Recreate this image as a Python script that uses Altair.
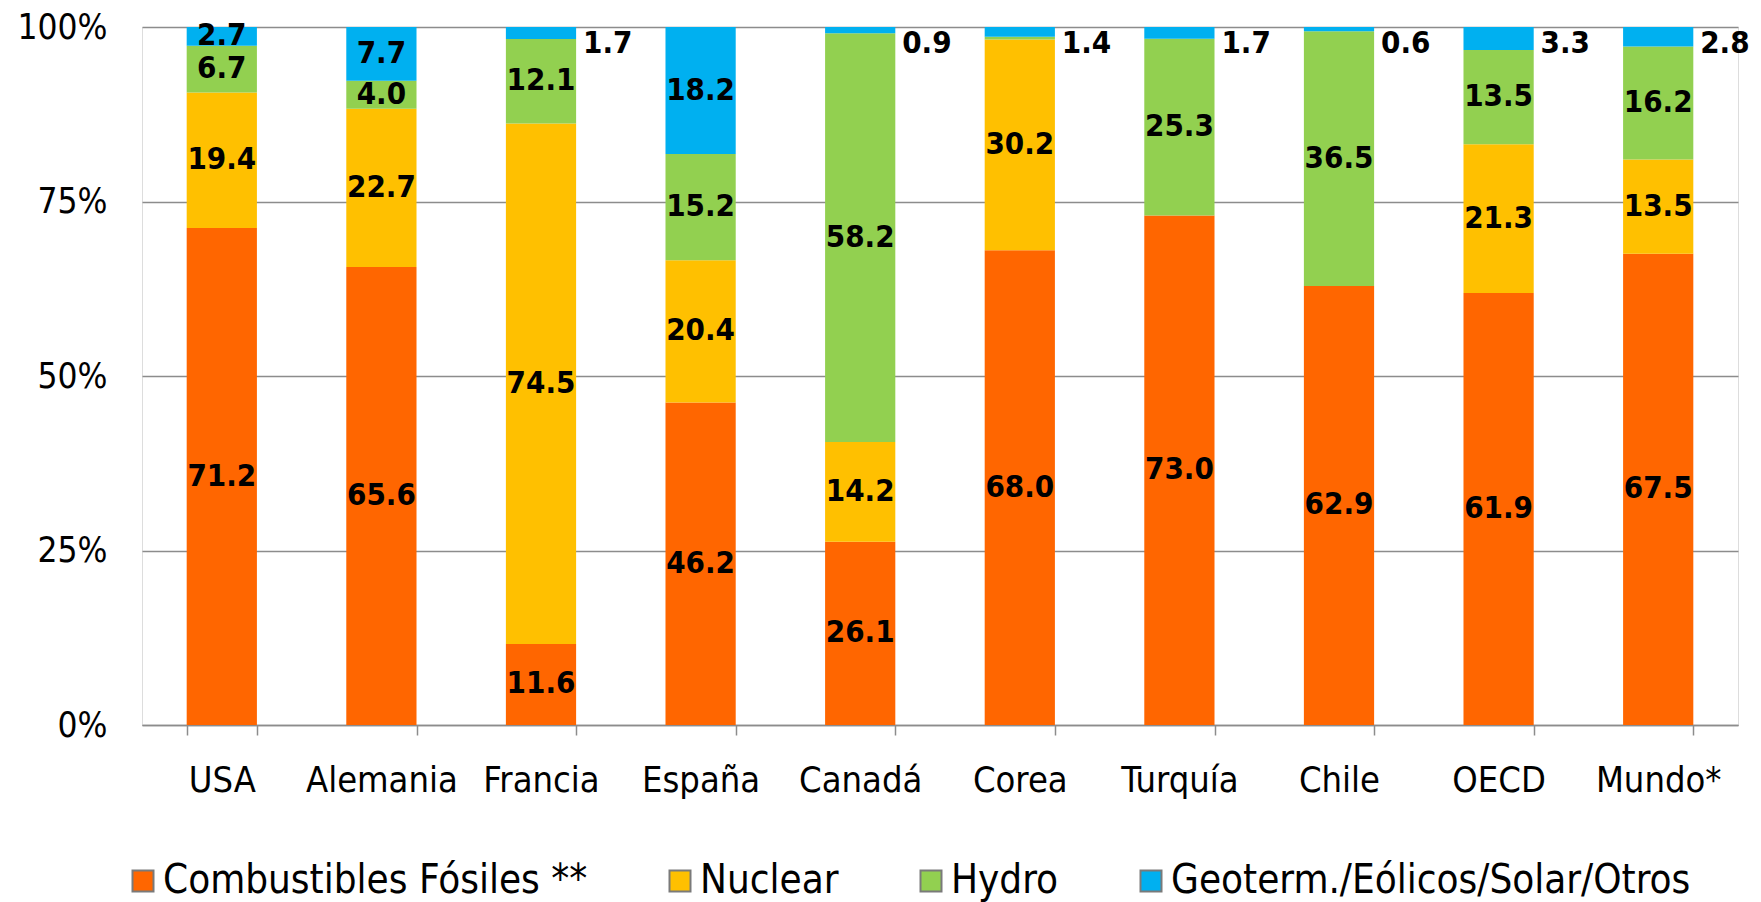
import altair as alt
import pandas as pd

paises = ["USA", "Alemania", "Francia", "España", "Canadá", "Corea", "Turquía", "Chile", "OECD", "Mundo*"]
fuentes = ["Combustibles Fósiles **", "Nuclear", "Hydro", "Geoterm./Eólicos/Solar/Otros"]
colores = ["#FF6600", "#FFC000", "#92D050", "#00B0F0"]

fosiles = [71.2, 65.6, 11.6, 46.2, 26.1, 68.0, 73.0, 62.9, 61.9, 67.5]
nuclear = [19.4, 22.7, 74.5, 20.4, 14.2, 30.2, 0.0, 0.0, 21.3, 13.5]
hydro = [6.7, 4.0, 12.1, 15.2, 58.2, 0.4, 25.3, 36.5, 13.5, 16.2]
otros = [2.7, 7.7, 1.7, 18.2, 0.9, 1.4, 1.7, 0.6, 3.3, 2.8]

# countries whose small "otros" value is written beside the bar
etiqueta_fuera = ["Francia", "Canadá", "Corea", "Turquía", "Chile", "OECD", "Mundo*"]

rows = []
for serie_idx, (fuente, valores) in enumerate(zip(fuentes, [fosiles, nuclear, hydro, otros])):
    for pais, v in zip(paises, valores):
        rows.append({
            "pais": pais,
            "fuente": fuente,
            "valor": v,
            "orden": serie_idx,
            "fuera": (serie_idx == 3 and pais in etiqueta_fuera),
        })
df = pd.DataFrame(rows)

FONT = "DejaVu Sans Condensed"

x_enc = alt.X(
    "pais:N",
    sort=paises,
    title=None,
    scale=alt.Scale(paddingInner=0.56, paddingOuter=0.28),
    axis=alt.Axis(
        labelAngle=0,
        labelFontSize=36,
        labelFont=FONT,
        labelColor="#000000",
        labelPadding=28,
        tickBand="extent",
        ticks=True,
        tickSize=10,
        tickColor="#8c8c8c",
        tickWidth=1.5,
        domainColor="#8c8c8c",
        domainWidth=1.5,
        grid=False,
    ),
)

bars = alt.Chart(df).mark_bar().encode(
    x=x_enc,
    y=alt.Y(
        "valor:Q",
        stack="normalize",
        title=None,
        scale=alt.Scale(domain=[0, 1]),
        axis=alt.Axis(
            values=[0, 0.25, 0.5, 0.75, 1.0],
            format=".0%",
            labelFontSize=35,
            labelFont=FONT,
            labelColor="#000000",
            labelPadding=35,
            ticks=False,
            domain=False,
            grid=True,
            gridColor="#8c8c8c",
            gridWidth=1.5,
        ),
    ),
    color=alt.Color(
        "fuente:N",
        sort=fuentes,
        scale=alt.Scale(domain=fuentes, range=colores),
        legend=alt.Legend(
            title=None,
            orient="none",
            direction="horizontal",
            legendX=-19,
            legendY=834,
            symbolType="square",
            symbolSize=441,
            symbolStrokeColor="#7a7a7a",
            symbolStrokeWidth=2,
            labelFontSize=40,
            labelFont=FONT,
            labelColor="#000000",
            labelOffset=0,
            columnPadding=72,
            labelLimit=1000,
        ),
    ),
    order=alt.Order("orden:Q"),
)

stacked = alt.Chart(df).transform_stack(
    stack="valor",
    groupby=["pais"],
    as_=["y0", "y1"],
    offset="normalize",
    sort=[alt.SortField("orden", order="ascending")],
).transform_calculate(mid="(datum.y0 + datum.y1) / 2")

inside = stacked.transform_filter("datum.valor > 0.5 && !datum.fuera").mark_text(
    font=FONT, fontSize=31, fontWeight="bold", color="#000000"
).encode(
    x=alt.X("pais:N", sort=paises),
    y=alt.Y("mid:Q"),
    text=alt.Text("valor:Q", format=".1f"),
)

outside = alt.Chart(df).transform_filter("datum.fuera").mark_text(
    font=FONT, fontSize=31, fontWeight="bold", color="#000000", align="left", dx=42
).encode(
    x=alt.X("pais:N", sort=paises),
    y=alt.value(17),
    text=alt.Text("valor:Q", format=".1f"),
)

chart = alt.layer(bars, inside, outside).properties(
    width=1596,
    height=698,
    autosize=alt.AutoSizeParams(type="none"),
    padding={"left": 134, "top": 19, "right": 13, "bottom": 177},
).configure_view(stroke=None).configure(background="#ffffff")

chart.save("out.html", embed_options={"renderer": "svg", "actions": False})
